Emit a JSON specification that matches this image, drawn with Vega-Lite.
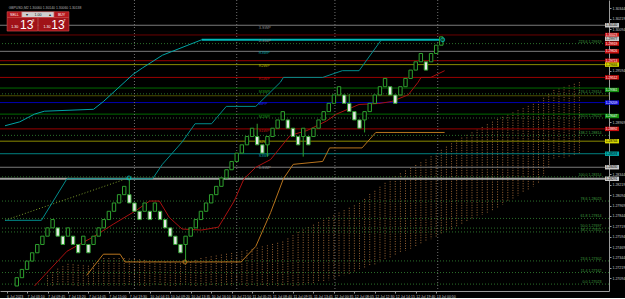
{
"$schema": "https://vega.github.io/schema/vega-lite/v6.json",
"width": 609, "height": 291, "padding": 0, "autosize": {"type": "pad"},
"background": "#000000",
"config": {"view": {"stroke": null}, "font": "Liberation Sans",
 "axis": {"labelFontSize":3.5,"labelColor":"#c8c8c8","tickSize":2,"labelPadding":1,"tickColor":"#9a9a9a","domainColor":"#9a9a9a","grid":false,"labelOverlap":false,"labelBound":false,"labelFlush":false,"labelFont":"Liberation Sans"},
 "axisX": {"labelAlign":"left"}},
"resolve": {"scale": {"color": "independent", "fill": "independent"}},
"datasets": {
"bricks": [
{"c":2,"lo":1.270,"hi":1.271,"d":"u"},{"c":3,"lo":1.271,"hi":1.272,"d":"u"},{"c":4,"lo":1.272,"hi":1.273,"d":"u"},{"c":5,"lo":1.273,"hi":1.274,"d":"u"},
{"c":6,"lo":1.274,"hi":1.275,"d":"u"},{"c":7,"lo":1.275,"hi":1.276,"d":"u"},{"c":8,"lo":1.276,"hi":1.277,"d":"u"},{"c":9,"lo":1.277,"hi":1.278,"d":"u"},
{"c":10,"lo":1.276,"hi":1.277,"d":"d"},{"c":11,"lo":1.275,"hi":1.276,"d":"d"},{"c":12,"lo":1.276,"hi":1.277,"d":"u"},{"c":13,"lo":1.275,"hi":1.276,"d":"d"},
{"c":14,"lo":1.274,"hi":1.275,"d":"d"},{"c":15,"lo":1.275,"hi":1.276,"d":"u"},{"c":16,"lo":1.274,"hi":1.275,"d":"d"},{"c":17,"lo":1.275,"hi":1.276,"d":"u"},
{"c":18,"lo":1.276,"hi":1.277,"d":"u"},{"c":19,"lo":1.277,"hi":1.278,"d":"u"},{"c":20,"lo":1.278,"hi":1.279,"d":"u"},{"c":21,"lo":1.279,"hi":1.280,"d":"u"},
{"c":22,"lo":1.280,"hi":1.281,"d":"u"},{"c":23,"lo":1.281,"hi":1.282,"d":"u"},{"c":24,"lo":1.280,"hi":1.281,"d":"d"},{"c":25,"lo":1.279,"hi":1.280,"d":"d"},
{"c":26,"lo":1.278,"hi":1.279,"d":"d"},{"c":27,"lo":1.279,"hi":1.280,"d":"u"},{"c":28,"lo":1.278,"hi":1.279,"d":"d"},{"c":29,"lo":1.279,"hi":1.280,"d":"u"},
{"c":30,"lo":1.278,"hi":1.279,"d":"d"},{"c":31,"lo":1.277,"hi":1.278,"d":"d"},{"c":32,"lo":1.276,"hi":1.277,"d":"d"},{"c":33,"lo":1.275,"hi":1.276,"d":"d"},
{"c":34,"lo":1.274,"hi":1.275,"d":"d"},{"c":35,"lo":1.275,"hi":1.276,"d":"u"},{"c":36,"lo":1.276,"hi":1.277,"d":"u"},{"c":37,"lo":1.277,"hi":1.278,"d":"u"},
{"c":38,"lo":1.278,"hi":1.279,"d":"u"},{"c":39,"lo":1.279,"hi":1.280,"d":"u"},{"c":40,"lo":1.280,"hi":1.281,"d":"u"},{"c":41,"lo":1.281,"hi":1.282,"d":"u"},
{"c":42,"lo":1.282,"hi":1.283,"d":"u"},{"c":43,"lo":1.283,"hi":1.284,"d":"u"},{"c":44,"lo":1.284,"hi":1.285,"d":"u"},{"c":45,"lo":1.285,"hi":1.286,"d":"u"},
{"c":46,"lo":1.286,"hi":1.287,"d":"u"},{"c":47,"lo":1.287,"hi":1.288,"d":"u"},{"c":48,"lo":1.288,"hi":1.289,"d":"u"},{"c":49,"lo":1.287,"hi":1.288,"d":"d"},
{"c":50,"lo":1.286,"hi":1.287,"d":"d"},{"c":51,"lo":1.287,"hi":1.288,"d":"u"},{"c":52,"lo":1.288,"hi":1.289,"d":"u"},{"c":53,"lo":1.289,"hi":1.290,"d":"u"},
{"c":54,"lo":1.290,"hi":1.291,"d":"u"},{"c":55,"lo":1.289,"hi":1.290,"d":"d"},{"c":56,"lo":1.288,"hi":1.289,"d":"d"},{"c":57,"lo":1.287,"hi":1.288,"d":"d"},
{"c":58,"lo":1.288,"hi":1.289,"d":"u"},{"c":59,"lo":1.287,"hi":1.288,"d":"d"},{"c":60,"lo":1.288,"hi":1.289,"d":"u"},{"c":61,"lo":1.289,"hi":1.290,"d":"u"},
{"c":62,"lo":1.290,"hi":1.291,"d":"u"},{"c":63,"lo":1.291,"hi":1.292,"d":"u"},{"c":64,"lo":1.292,"hi":1.293,"d":"u"},{"c":65,"lo":1.293,"hi":1.294,"d":"u"},
{"c":66,"lo":1.292,"hi":1.293,"d":"d"},{"c":67,"lo":1.291,"hi":1.292,"d":"d"},{"c":68,"lo":1.290,"hi":1.291,"d":"d"},{"c":69,"lo":1.289,"hi":1.290,"d":"d"},
{"c":70,"lo":1.290,"hi":1.291,"d":"u"},{"c":71,"lo":1.291,"hi":1.292,"d":"u"},{"c":72,"lo":1.292,"hi":1.293,"d":"u"},{"c":73,"lo":1.293,"hi":1.294,"d":"u"},
{"c":74,"lo":1.294,"hi":1.295,"d":"u"},{"c":75,"lo":1.293,"hi":1.294,"d":"d"},{"c":76,"lo":1.292,"hi":1.293,"d":"d"},{"c":77,"lo":1.293,"hi":1.294,"d":"u"},
{"c":78,"lo":1.294,"hi":1.295,"d":"u"},{"c":79,"lo":1.295,"hi":1.296,"d":"u"},{"c":80,"lo":1.296,"hi":1.297,"d":"u"},{"c":81,"lo":1.297,"hi":1.298,"d":"u"},
{"c":82,"lo":1.296,"hi":1.297,"d":"d"},{"c":83,"lo":1.297,"hi":1.298,"d":"u"},{"c":84,"lo":1.298,"hi":1.299,"d":"u"},{"c":85,"lo":1.299,"hi":1.300,"d":"u"}
],
"wicks": [
{"c":24,"lo":1.281,"hi":1.28302},{"c":35,"lo":1.2729,"hi":1.275},{"c":49,"lo":1.288,"hi":1.28954},{"c":51,"lo":1.28558,"hi":1.287},
{"c":58,"lo":1.28558,"hi":1.288},{"c":67,"lo":1.292,"hi":1.29314},{"c":70,"lo":1.28849,"hi":1.290},{"c":85,"lo":1.300,"hi":1.30005}
],
"circles": [
{"c":23.92,"p":1.28302,"s":"teal"},{"c":34.88,"p":1.27290,"s":"orange"},{"c":85.27,"p":1.29965,"s":"teal"}
],
"cloud": [
{"c":8,"t":1.27128,"b":1.27},{"c":9,"t":1.27168,"b":1.27},{"c":10,"t":1.27209,"b":1.27},{"c":11,"t":1.27238,"b":1.27},{"c":12,"t":1.27267,"b":1.27},
{"c":13,"t":1.27261,"b":1.27},{"c":14,"t":1.27255,"b":1.27},{"c":15,"t":1.27249,"b":1.27},{"c":16,"t":1.27244,"b":1.27},{"c":17,"t":1.27275,"b":1.27},
{"c":18,"t":1.27306,"b":1.27},{"c":19,"t":1.27337,"b":1.27},{"c":20,"t":1.27337,"b":1.27},{"c":21,"t":1.27337,"b":1.27},{"c":22,"t":1.27337,"b":1.27},
{"c":23,"t":1.27337,"b":1.27},{"c":24,"t":1.27331,"b":1.27},{"c":25,"t":1.27325,"b":1.27},{"c":26,"t":1.2732,"b":1.27},{"c":27,"t":1.27314,"b":1.27},
{"c":28,"t":1.27308,"b":1.27},{"c":29,"t":1.27302,"b":1.27},{"c":30,"t":1.27296,"b":1.27},{"c":31,"t":1.2729,"b":1.27},{"c":32,"t":1.27285,"b":1.27},
{"c":33,"t":1.27279,"b":1.27},{"c":34,"t":1.27273,"b":1.27},{"c":35,"t":1.27267,"b":1.27},{"c":36,"t":1.2729,"b":1.27},{"c":37,"t":1.27314,"b":1.27},
{"c":38,"t":1.27337,"b":1.27},{"c":39,"t":1.27347,"b":1.27},{"c":40,"t":1.27357,"b":1.27},{"c":41,"t":1.27367,"b":1.27},{"c":42,"t":1.27378,"b":1.27},
{"c":43,"t":1.27388,"b":1.27},{"c":44,"t":1.27397,"b":1.27},{"c":45,"t":1.27408,"b":1.27},{"c":46,"t":1.27418,"b":1.27},{"c":47,"t":1.27432,"b":1.27},
{"c":48,"t":1.27447,"b":1.27},{"c":49,"t":1.27461,"b":1.27},{"c":50,"t":1.27477,"b":1.27},{"c":51,"t":1.2749,"b":1.27},{"c":52,"t":1.27506,"b":1.27},
{"c":53,"t":1.2752,"b":1.27},{"c":54,"t":1.27535,"b":1.27},{"c":55,"t":1.27573,"b":1.27},{"c":56,"t":1.27613,"b":1.27},{"c":57,"t":1.27651,"b":1.27},
{"c":58,"t":1.2768,"b":1.27011},{"c":59,"t":1.27709,"b":1.27023},{"c":60,"t":1.27738,"b":1.27035},{"c":61,"t":1.27767,"b":1.27046},{"c":62,"t":1.27796,"b":1.27058},
{"c":63,"t":1.27826,"b":1.27069},{"c":64,"t":1.27855,"b":1.27089},{"c":65,"t":1.27884,"b":1.27108},{"c":66,"t":1.27913,"b":1.27128},{"c":67,"t":1.27942,"b":1.27148},
{"c":68,"t":1.27971,"b":1.27166},{"c":69,"t":1.28,"b":1.27186},{"c":70,"t":1.28049,"b":1.27211},{"c":71,"t":1.28108,"b":1.27236},{"c":72,"t":1.28146,"b":1.27257},
{"c":73,"t":1.28195,"b":1.27287},{"c":74,"t":1.28242,"b":1.27311},{"c":75,"t":1.28291,"b":1.27337},{"c":76,"t":1.28324,"b":1.27365},{"c":77,"t":1.28357,"b":1.27394},
{"c":78,"t":1.28391,"b":1.27422},{"c":79,"t":1.28423,"b":1.2745},{"c":80,"t":1.28457,"b":1.27478},{"c":81,"t":1.2849,"b":1.27507},{"c":82,"t":1.28523,"b":1.27535},
{"c":83,"t":1.28562,"b":1.27564},{"c":84,"t":1.28601,"b":1.27593},{"c":85,"t":1.2864,"b":1.27622},{"c":86,"t":1.28678,"b":1.27651},{"c":87,"t":1.28718,"b":1.2768},
{"c":88,"t":1.28756,"b":1.27709},{"c":89,"t":1.28787,"b":1.27738},{"c":90,"t":1.2882,"b":1.27767},{"c":91,"t":1.28851,"b":1.27796},{"c":92,"t":1.28884,"b":1.27826},
{"c":93,"t":1.28915,"b":1.27855},{"c":94,"t":1.28948,"b":1.27884},{"c":95,"t":1.28979,"b":1.27913},{"c":96,"t":1.29012,"b":1.27942},{"c":97,"t":1.29037,"b":1.27978},
{"c":98,"t":1.29064,"b":1.28014},{"c":99,"t":1.2909,"b":1.28051},{"c":100,"t":1.29117,"b":1.28087},{"c":101,"t":1.29142,"b":1.28123},{"c":102,"t":1.29169,"b":1.28159},
{"c":103,"t":1.29194,"b":1.28196},{"c":104,"t":1.29221,"b":1.28232},{"c":105,"t":1.29267,"b":1.28329},{"c":106,"t":1.29314,"b":1.28427},{"c":107,"t":1.29361,"b":1.28523},
{"c":108,"t":1.29379,"b":1.28535},{"c":109,"t":1.29398,"b":1.28546},{"c":110,"t":1.29416,"b":1.28558},{"c":111,"t":1.29435,"b":1.2857},{"c":112,"t":1.29454,"b":1.28581}
],
"lines": [
{"s":"red","c":5.46,"p":1.27},{"s":"red","c":7.38,"p":1.27128},{"s":"red","c":11.8,"p":1.27418},{"s":"red","c":17,"p":1.27593},{"s":"red","c":20.85,"p":1.27744},
{"s":"red","c":25.27,"p":1.27907},{"s":"red","c":27.96,"p":1.28023},{"s":"red","c":29.88,"p":1.28023},{"s":"red","c":31.81,"p":1.27826},{"s":"red","c":34.31,"p":1.27686},
{"s":"red","c":38.15,"p":1.27674},{"s":"red","c":41.42,"p":1.27709},{"s":"red","c":44.5,"p":1.28023},{"s":"red","c":46.42,"p":1.28291},{"s":"red","c":48.73,"p":1.2843},
{"s":"red","c":51.62,"p":1.28523},{"s":"red","c":55.46,"p":1.28814},{"s":"red","c":58.73,"p":1.28872},{"s":"red","c":62.58,"p":1.28988},{"s":"red","c":64.5,"p":1.2907},
{"s":"red","c":68.92,"p":1.29186},{"s":"red","c":72.77,"p":1.29198},{"s":"red","c":75.27,"p":1.29221},{"s":"red","c":78.54,"p":1.29302},{"s":"red","c":80.46,"p":1.29454},
{"s":"red","c":81.04,"p":1.29512},{"s":"red","c":82.96,"p":1.29512},{"s":"red","c":85.65,"p":1.29593},
{"s":"orange","c":15.65,"p":1.27128},{"s":"orange","c":18.92,"p":1.27383},{"s":"orange","c":22.19,"p":1.27383},{"s":"orange","c":23.15,"p":1.2729},{"s":"orange","c":45.85,"p":1.2729},
{"s":"orange","c":48.73,"p":1.27477},{"s":"orange","c":51.62,"p":1.27884},{"s":"orange","c":54.12,"p":1.28291},{"s":"orange","c":56.04,"p":1.28465},{"s":"orange","c":61.81,"p":1.285},
{"s":"orange","c":63.15,"p":1.28663},{"s":"orange","c":69.5,"p":1.28663},{"s":"orange","c":72.19,"p":1.28849},{"s":"orange","c":85.65,"p":1.28849},
{"s":"teal1","c":-0.31,"p":1.2893},{"s":"teal1","c":2.58,"p":1.28977},{"s":"teal1","c":5.46,"p":1.2907},{"s":"teal1","c":7.38,"p":1.29105},{"s":"teal1","c":17,"p":1.29128},
{"s":"teal1","c":18.92,"p":1.29221},{"s":"teal1","c":24.69,"p":1.29547},{"s":"teal1","c":26.62,"p":1.29628},{"s":"teal1","c":30.46,"p":1.29779},{"s":"teal1","c":36.23,"p":1.29919},
{"s":"teal1","c":38.15,"p":1.29965},
{"s":"teal2","c":-0.31,"p":1.27791},{"s":"teal2","c":6.81,"p":1.27791},{"s":"teal2","c":11.8,"p":1.28291},{"s":"teal2","c":28.54,"p":1.28291},{"s":"teal2","c":30.46,"p":1.28465},
{"s":"teal2","c":34.31,"p":1.28733},{"s":"teal2","c":36.85,"p":1.28954},{"s":"teal2","c":40.08,"p":1.28954},{"s":"teal2","c":42.96,"p":1.29163},{"s":"teal2","c":48.73,"p":1.29163},
{"s":"teal2","c":53.54,"p":1.29454},{"s":"teal2","c":54.12,"p":1.29512},{"s":"teal2","c":61.81,"p":1.29512},{"s":"teal2","c":65.65,"p":1.29593},{"s":"teal2","c":68.92,"p":1.29593},
{"s":"teal2","c":73.15,"p":1.29954}
],
"tealtop": [{"c":38.15,"p":1.29965},{"c":85.27,"p":1.29965}],
"diag": [{"c":-0.31,"p":1.27791},{"c":23.92,"p":1.28302}],
"piv": [
{"p":1.3014,"n":"g"},{"p":1.30023,"n":"dr"},{"p":1.29826,"n":"g"},{"p":1.29713,"n":"r"},{"p":1.29666,"n":"y"},{"p":1.29512,"n":"r"},
{"p":1.29384,"n":"gr"},{"p":1.29291,"n":"ol"},{"p":1.29209,"n":"b"},{"p":1.2907,"n":"gr"},{"p":1.28892,"n":"r"},{"p":1.28744,"n":"y"},
{"p":1.28593,"n":"t"},{"p":1.2843,"n":"g"}
],
"pivlab": [
{"p":1.30105,"t":"3-SWP","n":"g"},{"p":1.29954,"t":"2-SWP","n":"g"},{"p":1.29803,"t":"R3WP","n":"t"},{"p":1.29651,"t":"R2WP","n":"y"},
{"p":1.29492,"t":"R1WP","n":"r"},{"p":1.29337,"t":"M3WP","n":"gr"},{"p":1.29186,"t":"WPP","n":"b"},{"p":1.29035,"t":"M2WP","n":"gr"},
{"p":1.28872,"t":"S1WP","n":"r"},{"p":1.28733,"t":"S2WP","n":"y"},{"p":1.2857,"t":"S3WP","n":"t"},{"p":1.28419,"t":"1-SWP","n":"g"}
],
"fib": [
{"p":1.29919,"t":"223.6  1.29919"},{"p":1.29314,"t":"176.4  1.29314"},{"p":1.29023,"t":"150.0  1.29023"},{"p":1.28814,"t":"138.2  1.28814"},
{"p":1.28314,"t":"100.0  1.28314"},{"p":1.28023,"t":"78.6  1.28023"},{"p":1.27814,"t":"61.8  1.27814"},{"p":1.27697,"t":"50.0  1.27697"},
{"p":1.27651,"t":"38.2  1.27651"},{"p":1.27302,"t":"23.6  1.27302"},{"p":1.27162,"t":"11.4  1.27162"},{"p":1.27023,"t":"0.0  1.27023"}
],
"tags": [
{"p":1.3014,"n":"w"},{"p":1.30023,"n":"r"},{"p":1.29977,"n":"w"},{"p":1.29919,"n":"r"},{"p":1.29826,"n":"r"},{"p":1.29713,"n":"r"},
{"p":1.29666,"n":"y"},{"p":1.29512,"n":"r"},{"p":1.29361,"n":"gr"},{"p":1.29209,"n":"b"},{"p":1.29047,"n":"gr"},{"p":1.28892,"n":"r"},
{"p":1.28744,"n":"y"},{"p":1.28593,"n":"t"},{"p":1.2843,"n":"w"},{"p":1.28291,"n":"w"}
],
"seps": [{"c":25},{"c":45},{"c":64.2},{"c":84.3}],
"panel": [
{"k":"btn","c":0.1,"c2":2.96,"p":1.30303,"p2":1.30233},
{"k":"lot","c":2.96,"c2":9.31,"p":1.30303,"p2":1.30233},
{"k":"btn","c":9.31,"c2":12.19,"p":1.30303,"p2":1.30233},
{"k":"big","c":0.1,"c2":6.1,"p":1.30233,"p2":1.3007},
{"k":"big","c":6.2,"c2":12.19,"p":1.30233,"p2":1.3007}
],
"ptext": [
{"k":"s","c":1.53,"p":1.30268,"t":"SELL","n":"w"},{"k":"s","c":6.13,"p":1.30268,"t":"1.00","n":"k"},{"k":"s","c":4.0,"p":1.30268,"t":"▾","n":"k"},
{"k":"s","c":8.4,"p":1.30268,"t":"▴","n":"k"},{"k":"s","c":10.75,"p":1.30268,"t":"BUY","n":"w"},
{"k":"s","c":1.6,"p":1.30116,"t":"1.30","n":"w"},{"k":"s","c":7.9,"p":1.30116,"t":"1.30","n":"w"},
{"k":"s","c":5.2,"p":1.30186,"t":"8","n":"w"},{"k":"s","c":11.3,"p":1.30186,"t":"7","n":"w"},
{"k":"big","c":3.95,"p":1.30146,"t":"13","n":"w"},{"k":"big","c":10.05,"p":1.30146,"t":"13","n":"w"},
{"k":"title","c":0.4,"p":1.30352,"t":"GBPUSD,M2  1.30060 1.30140 1.30060 1.30138","n":"g"}
]
},
"layer": [
{"data":{"name":"cloud"},"mark":{"type":"rule","strokeDash":[1,1.5],"strokeWidth":1,"color":"#9a6535","clip":true},
 "encoding":{"x":{"field":"c","type":"quantitative","scale":{"domain":[-0.31,116.81],"nice":false,"zero":false},"axis":{"orient":"bottom","title":null,"values":[0,4,8,12,16,20,24,28,32,36,40,44,48,52,56,60,64,68,72,76,80,84],"labelExpr":"['6 Jul 2023','7 Jul 03:10','7 Jul 09:45','7 Jul 13:20','7 Jul 14:05','7 Jul 15:00','7 Jul 19:30','10 Jul 04:15','10 Jul 09:20','10 Jul 13:35','10 Jul 16:10','10 Jul 21:50','11 Jul 05:25','11 Jul 08:40','11 Jul 09:55','11 Jul 13:45','12 Jul 00:35','12 Jul 08:05','12 Jul 12:30','12 Jul 14:15','12 Jul 19:40','13 Jul 00:50'][round(datum.value/4)]"}},
  "y":{"field":"t","type":"quantitative","scale":{"domain":[1.27,1.30384],"nice":false,"zero":false},"axis":{"orient":"right","title":null,"format":".5f","values":[1.27094,1.27219,1.27344,1.27469,1.27594,1.27719,1.27844,1.27969,1.28094,1.28219,1.28344,1.28969,1.29594,1.30094,1.30219,1.30344]}},"y2":{"field":"b"}}},
{"data":{"name":"piv"},"mark":{"type":"rule","strokeWidth":1,"clip":true},
 "encoding":{"y":{"field":"p","type":"quantitative","scale":{"domain":[1.27,1.30384],"nice":false,"zero":false},"axis":{"orient":"right","title":null,"format":".5f","values":[1.27094,1.27219,1.27344,1.27469,1.27594,1.27719,1.27844,1.27969,1.28094,1.28219,1.28344,1.28969,1.29594,1.30094,1.30219,1.30344]}},
  "color":{"field":"n","type":"nominal","legend":null,"scale":{"domain":["g","dr","r","y","gr","ol","b","t","w","k"],"range":["#7a7a7a","#6a0000","#9a0000","#8a8a00","#006a00","#4c4c00","#0000b0","#008080","#c8c8c8","#000000"]}}}},
{"data":{"values":[{"p":1.28291}]},"mark":{"type":"rule","strokeWidth":2,"color":"#a0a0a0","clip":true},
 "encoding":{"y":{"field":"p","type":"quantitative","scale":{"domain":[1.27,1.30384],"nice":false,"zero":false},"axis":{"orient":"right","title":null,"format":".5f","values":[1.27094,1.27219,1.27344,1.27469,1.27594,1.27719,1.27844,1.27969,1.28094,1.28219,1.28344,1.28969,1.29594,1.30094,1.30219,1.30344]}}}},
{"data":{"name":"fib"},"mark":{"type":"rule","strokeWidth":1,"strokeDash":[1,2],"color":"#2a702a","clip":true},
 "encoding":{"y":{"field":"p","type":"quantitative","scale":{"domain":[1.27,1.30384],"nice":false,"zero":false},"axis":{"orient":"right","title":null,"format":".5f","values":[1.27094,1.27219,1.27344,1.27469,1.27594,1.27719,1.27844,1.27969,1.28094,1.28219,1.28344,1.28969,1.29594,1.30094,1.30219,1.30344]}}}},
{"data":{"name":"seps"},"mark":{"type":"rule","strokeWidth":1,"strokeDash":[1,2],"color":"#707070","clip":true},
 "encoding":{"x":{"field":"c","type":"quantitative","scale":{"domain":[-0.31,116.81],"nice":false,"zero":false},"axis":{"orient":"bottom","title":null,"values":[0,4,8,12,16,20,24,28,32,36,40,44,48,52,56,60,64,68,72,76,80,84],"labelExpr":"['6 Jul 2023','7 Jul 03:10','7 Jul 09:45','7 Jul 13:20','7 Jul 14:05','7 Jul 15:00','7 Jul 19:30','10 Jul 04:15','10 Jul 09:20','10 Jul 13:35','10 Jul 16:10','10 Jul 21:50','11 Jul 05:25','11 Jul 08:40','11 Jul 09:55','11 Jul 13:45','12 Jul 00:35','12 Jul 08:05','12 Jul 12:30','12 Jul 14:15','12 Jul 19:40','13 Jul 00:50'][round(datum.value/4)]"}}}},
{"data":{"name":"diag"},"mark":{"type":"line","strokeWidth":1,"strokeDash":[1,2],"color":"#7a9a2a","clip":true},
 "encoding":{"x":{"field":"c","type":"quantitative","scale":{"domain":[-0.31,116.81],"nice":false,"zero":false},"axis":{"orient":"bottom","title":null,"values":[0,4,8,12,16,20,24,28,32,36,40,44,48,52,56,60,64,68,72,76,80,84],"labelExpr":"['6 Jul 2023','7 Jul 03:10','7 Jul 09:45','7 Jul 13:20','7 Jul 14:05','7 Jul 15:00','7 Jul 19:30','10 Jul 04:15','10 Jul 09:20','10 Jul 13:35','10 Jul 16:10','10 Jul 21:50','11 Jul 05:25','11 Jul 08:40','11 Jul 09:55','11 Jul 13:45','12 Jul 00:35','12 Jul 08:05','12 Jul 12:30','12 Jul 14:15','12 Jul 19:40','13 Jul 00:50'][round(datum.value/4)]"}},
  "y":{"field":"p","type":"quantitative","scale":{"domain":[1.27,1.30384],"nice":false,"zero":false},"axis":{"orient":"right","title":null,"format":".5f","values":[1.27094,1.27219,1.27344,1.27469,1.27594,1.27719,1.27844,1.27969,1.28094,1.28219,1.28344,1.28969,1.29594,1.30094,1.30219,1.30344]}}}},
{"data":{"name":"lines"},"mark":{"type":"line","strokeWidth":1,"clip":true},
 "encoding":{"x":{"field":"c","type":"quantitative","scale":{"domain":[-0.31,116.81],"nice":false,"zero":false},"axis":{"orient":"bottom","title":null,"values":[0,4,8,12,16,20,24,28,32,36,40,44,48,52,56,60,64,68,72,76,80,84],"labelExpr":"['6 Jul 2023','7 Jul 03:10','7 Jul 09:45','7 Jul 13:20','7 Jul 14:05','7 Jul 15:00','7 Jul 19:30','10 Jul 04:15','10 Jul 09:20','10 Jul 13:35','10 Jul 16:10','10 Jul 21:50','11 Jul 05:25','11 Jul 08:40','11 Jul 09:55','11 Jul 13:45','12 Jul 00:35','12 Jul 08:05','12 Jul 12:30','12 Jul 14:15','12 Jul 19:40','13 Jul 00:50'][round(datum.value/4)]"}},
  "y":{"field":"p","type":"quantitative","scale":{"domain":[1.27,1.30384],"nice":false,"zero":false},"axis":{"orient":"right","title":null,"format":".5f","values":[1.27094,1.27219,1.27344,1.27469,1.27594,1.27719,1.27844,1.27969,1.28094,1.28219,1.28344,1.28969,1.29594,1.30094,1.30219,1.30344]}},
  "detail":{"field":"s"},
  "color":{"field":"s","type":"nominal","legend":null,"scale":{"domain":["red","orange","teal1","teal2"],"range":["#a81010","#b8741e","#00a4a4","#008c8c"]}}}},
{"data":{"name":"tealtop"},"mark":{"type":"line","strokeWidth":2,"color":"#00b8b8","clip":true},
 "encoding":{"x":{"field":"c","type":"quantitative","scale":{"domain":[-0.31,116.81],"nice":false,"zero":false},"axis":{"orient":"bottom","title":null,"values":[0,4,8,12,16,20,24,28,32,36,40,44,48,52,56,60,64,68,72,76,80,84],"labelExpr":"['6 Jul 2023','7 Jul 03:10','7 Jul 09:45','7 Jul 13:20','7 Jul 14:05','7 Jul 15:00','7 Jul 19:30','10 Jul 04:15','10 Jul 09:20','10 Jul 13:35','10 Jul 16:10','10 Jul 21:50','11 Jul 05:25','11 Jul 08:40','11 Jul 09:55','11 Jul 13:45','12 Jul 00:35','12 Jul 08:05','12 Jul 12:30','12 Jul 14:15','12 Jul 19:40','13 Jul 00:50'][round(datum.value/4)]"}},
  "y":{"field":"p","type":"quantitative","scale":{"domain":[1.27,1.30384],"nice":false,"zero":false},"axis":{"orient":"right","title":null,"format":".5f","values":[1.27094,1.27219,1.27344,1.27469,1.27594,1.27719,1.27844,1.27969,1.28094,1.28219,1.28344,1.28969,1.29594,1.30094,1.30219,1.30344]}}}},
{"data":{"name":"pivlab"},"mark":{"type":"text","fontSize":3.8,"align":"left","baseline":"middle","clip":true},
 "encoding":{"x":{"datum":49.3,"type":"quantitative","scale":{"domain":[-0.31,116.81],"nice":false,"zero":false},"axis":{"orient":"bottom","title":null,"values":[0,4,8,12,16,20,24,28,32,36,40,44,48,52,56,60,64,68,72,76,80,84],"labelExpr":"['6 Jul 2023','7 Jul 03:10','7 Jul 09:45','7 Jul 13:20','7 Jul 14:05','7 Jul 15:00','7 Jul 19:30','10 Jul 04:15','10 Jul 09:20','10 Jul 13:35','10 Jul 16:10','10 Jul 21:50','11 Jul 05:25','11 Jul 08:40','11 Jul 09:55','11 Jul 13:45','12 Jul 00:35','12 Jul 08:05','12 Jul 12:30','12 Jul 14:15','12 Jul 19:40','13 Jul 00:50'][round(datum.value/4)]"}},
  "y":{"field":"p","type":"quantitative","scale":{"domain":[1.27,1.30384],"nice":false,"zero":false},"axis":{"orient":"right","title":null,"format":".5f","values":[1.27094,1.27219,1.27344,1.27469,1.27594,1.27719,1.27844,1.27969,1.28094,1.28219,1.28344,1.28969,1.29594,1.30094,1.30219,1.30344]}},
  "text":{"field":"t"},
  "color":{"field":"n","type":"nominal","legend":null,"scale":{"domain":["g","dr","r","y","gr","ol","b","t","w","k"],"range":["#8a8a8a","#7a0000","#c01010","#b0b000","#1a9a1a","#5c5c00","#2020ff","#00a0a0","#c8c8c8","#000000"]}}}},
{"data":{"name":"fib"},"mark":{"type":"text","fontSize":3.6,"align":"right","baseline":"bottom","color":"#3f9f3f","clip":true},
 "encoding":{"x":{"datum":116.3,"type":"quantitative","scale":{"domain":[-0.31,116.81],"nice":false,"zero":false},"axis":{"orient":"bottom","title":null,"values":[0,4,8,12,16,20,24,28,32,36,40,44,48,52,56,60,64,68,72,76,80,84],"labelExpr":"['6 Jul 2023','7 Jul 03:10','7 Jul 09:45','7 Jul 13:20','7 Jul 14:05','7 Jul 15:00','7 Jul 19:30','10 Jul 04:15','10 Jul 09:20','10 Jul 13:35','10 Jul 16:10','10 Jul 21:50','11 Jul 05:25','11 Jul 08:40','11 Jul 09:55','11 Jul 13:45','12 Jul 00:35','12 Jul 08:05','12 Jul 12:30','12 Jul 14:15','12 Jul 19:40','13 Jul 00:50'][round(datum.value/4)]"}},
  "y":{"field":"p","type":"quantitative","scale":{"domain":[1.27,1.30384],"nice":false,"zero":false},"axis":{"orient":"right","title":null,"format":".5f","values":[1.27094,1.27219,1.27344,1.27469,1.27594,1.27719,1.27844,1.27969,1.28094,1.28219,1.28344,1.28969,1.29594,1.30094,1.30219,1.30344]}},
  "text":{"field":"t"}}},
{"data":{"name":"wicks"},"mark":{"type":"rule","strokeWidth":1,"color":"#2ea02e","clip":true},
 "encoding":{"x":{"field":"c","type":"quantitative","scale":{"domain":[-0.31,116.81],"nice":false,"zero":false},"axis":{"orient":"bottom","title":null,"values":[0,4,8,12,16,20,24,28,32,36,40,44,48,52,56,60,64,68,72,76,80,84],"labelExpr":"['6 Jul 2023','7 Jul 03:10','7 Jul 09:45','7 Jul 13:20','7 Jul 14:05','7 Jul 15:00','7 Jul 19:30','10 Jul 04:15','10 Jul 09:20','10 Jul 13:35','10 Jul 16:10','10 Jul 21:50','11 Jul 05:25','11 Jul 08:40','11 Jul 09:55','11 Jul 13:45','12 Jul 00:35','12 Jul 08:05','12 Jul 12:30','12 Jul 14:15','12 Jul 19:40','13 Jul 00:50'][round(datum.value/4)]"}},
  "y":{"field":"lo","type":"quantitative","scale":{"domain":[1.27,1.30384],"nice":false,"zero":false},"axis":{"orient":"right","title":null,"format":".5f","values":[1.27094,1.27219,1.27344,1.27469,1.27594,1.27719,1.27844,1.27969,1.28094,1.28219,1.28344,1.28969,1.29594,1.30094,1.30219,1.30344]}},"y2":{"field":"hi"}}},
{"data":{"name":"bricks"},"mark":{"type":"bar","width":3.4,"stroke":"#2ea02e","strokeWidth":1,"clip":true},
 "encoding":{"x":{"field":"c","type":"quantitative","scale":{"domain":[-0.31,116.81],"nice":false,"zero":false},"axis":{"orient":"bottom","title":null,"values":[0,4,8,12,16,20,24,28,32,36,40,44,48,52,56,60,64,68,72,76,80,84],"labelExpr":"['6 Jul 2023','7 Jul 03:10','7 Jul 09:45','7 Jul 13:20','7 Jul 14:05','7 Jul 15:00','7 Jul 19:30','10 Jul 04:15','10 Jul 09:20','10 Jul 13:35','10 Jul 16:10','10 Jul 21:50','11 Jul 05:25','11 Jul 08:40','11 Jul 09:55','11 Jul 13:45','12 Jul 00:35','12 Jul 08:05','12 Jul 12:30','12 Jul 14:15','12 Jul 19:40','13 Jul 00:50'][round(datum.value/4)]"}},
  "y":{"field":"lo","type":"quantitative","scale":{"domain":[1.27,1.30384],"nice":false,"zero":false},"axis":{"orient":"right","title":null,"format":".5f","values":[1.27094,1.27219,1.27344,1.27469,1.27594,1.27719,1.27844,1.27969,1.28094,1.28219,1.28344,1.28969,1.29594,1.30094,1.30219,1.30344]}},
  "y2":{"field":"hi"},
  "fill":{"field":"d","type":"nominal","legend":null,"scale":{"domain":["u","d"],"range":["#000000","#e8e8e8"]}}}},
{"data":{"name":"circles"},"mark":{"type":"point","shape":"circle","size":14,"filled":false,"strokeWidth":1.2,"clip":true},
 "encoding":{"x":{"field":"c","type":"quantitative","scale":{"domain":[-0.31,116.81],"nice":false,"zero":false},"axis":{"orient":"bottom","title":null,"values":[0,4,8,12,16,20,24,28,32,36,40,44,48,52,56,60,64,68,72,76,80,84],"labelExpr":"['6 Jul 2023','7 Jul 03:10','7 Jul 09:45','7 Jul 13:20','7 Jul 14:05','7 Jul 15:00','7 Jul 19:30','10 Jul 04:15','10 Jul 09:20','10 Jul 13:35','10 Jul 16:10','10 Jul 21:50','11 Jul 05:25','11 Jul 08:40','11 Jul 09:55','11 Jul 13:45','12 Jul 00:35','12 Jul 08:05','12 Jul 12:30','12 Jul 14:15','12 Jul 19:40','13 Jul 00:50'][round(datum.value/4)]"}},
  "y":{"field":"p","type":"quantitative","scale":{"domain":[1.27,1.30384],"nice":false,"zero":false},"axis":{"orient":"right","title":null,"format":".5f","values":[1.27094,1.27219,1.27344,1.27469,1.27594,1.27719,1.27844,1.27969,1.28094,1.28219,1.28344,1.28969,1.29594,1.30094,1.30219,1.30344]}},
  "color":{"field":"s","type":"nominal","legend":null,"scale":{"domain":["teal","orange"],"range":["#00c8c8","#c88020"]}}}},
{"data":{"name":"tags"},"mark":{"type":"bar","orient":"horizontal","height":4.4},
 "encoding":{"x":{"datum":117.0,"type":"quantitative","scale":{"domain":[-0.31,116.81],"nice":false,"zero":false},"axis":{"orient":"bottom","title":null,"values":[0,4,8,12,16,20,24,28,32,36,40,44,48,52,56,60,64,68,72,76,80,84],"labelExpr":"['6 Jul 2023','7 Jul 03:10','7 Jul 09:45','7 Jul 13:20','7 Jul 14:05','7 Jul 15:00','7 Jul 19:30','10 Jul 04:15','10 Jul 09:20','10 Jul 13:35','10 Jul 16:10','10 Jul 21:50','11 Jul 05:25','11 Jul 08:40','11 Jul 09:55','11 Jul 13:45','12 Jul 00:35','12 Jul 08:05','12 Jul 12:30','12 Jul 14:15','12 Jul 19:40','13 Jul 00:50'][round(datum.value/4)]"}},"x2":{"datum":119.75},
  "y":{"field":"p","type":"quantitative","scale":{"domain":[1.27,1.30384],"nice":false,"zero":false},"axis":{"orient":"right","title":null,"format":".5f","values":[1.27094,1.27219,1.27344,1.27469,1.27594,1.27719,1.27844,1.27969,1.28094,1.28219,1.28344,1.28969,1.29594,1.30094,1.30219,1.30344]}},
  "color":{"field":"n","type":"nominal","legend":null,"scale":{"domain":["g","dr","r","y","gr","ol","b","t","w","k"],"range":["#8a8a8a","#7a0000","#c81010","#d8d800","#109010","#5c5c00","#1010e0","#00a8a8","#c8c8c8","#000000"]}}}},
{"data":{"name":"tags"},"mark":{"type":"text","fontSize":3.2,"align":"left","baseline":"middle"},
 "encoding":{"x":{"datum":117.15,"type":"quantitative","scale":{"domain":[-0.31,116.81],"nice":false,"zero":false},"axis":{"orient":"bottom","title":null,"values":[0,4,8,12,16,20,24,28,32,36,40,44,48,52,56,60,64,68,72,76,80,84],"labelExpr":"['6 Jul 2023','7 Jul 03:10','7 Jul 09:45','7 Jul 13:20','7 Jul 14:05','7 Jul 15:00','7 Jul 19:30','10 Jul 04:15','10 Jul 09:20','10 Jul 13:35','10 Jul 16:10','10 Jul 21:50','11 Jul 05:25','11 Jul 08:40','11 Jul 09:55','11 Jul 13:45','12 Jul 00:35','12 Jul 08:05','12 Jul 12:30','12 Jul 14:15','12 Jul 19:40','13 Jul 00:50'][round(datum.value/4)]"}},
  "y":{"field":"p","type":"quantitative","scale":{"domain":[1.27,1.30384],"nice":false,"zero":false},"axis":{"orient":"right","title":null,"format":".5f","values":[1.27094,1.27219,1.27344,1.27469,1.27594,1.27719,1.27844,1.27969,1.28094,1.28219,1.28344,1.28969,1.29594,1.30094,1.30219,1.30344]}},
  "text":{"field":"p","format":".5f"},
  "color":{"field":"n","type":"nominal","legend":null,"scale":{"domain":["r","b","gr","y","t","w"],"range":["#ffffff","#ffffff","#ffffff","#000000","#000000","#000000"]}}}},
{"data":{"name":"panel"},"mark":{"type":"rect","stroke":"#d85050","strokeWidth":0.6},
 "encoding":{"x":{"field":"c","type":"quantitative","scale":{"domain":[-0.31,116.81],"nice":false,"zero":false},"axis":{"orient":"bottom","title":null,"values":[0,4,8,12,16,20,24,28,32,36,40,44,48,52,56,60,64,68,72,76,80,84],"labelExpr":"['6 Jul 2023','7 Jul 03:10','7 Jul 09:45','7 Jul 13:20','7 Jul 14:05','7 Jul 15:00','7 Jul 19:30','10 Jul 04:15','10 Jul 09:20','10 Jul 13:35','10 Jul 16:10','10 Jul 21:50','11 Jul 05:25','11 Jul 08:40','11 Jul 09:55','11 Jul 13:45','12 Jul 00:35','12 Jul 08:05','12 Jul 12:30','12 Jul 14:15','12 Jul 19:40','13 Jul 00:50'][round(datum.value/4)]"}},"x2":{"field":"c2"},
  "y":{"field":"p","type":"quantitative","scale":{"domain":[1.27,1.30384],"nice":false,"zero":false},"axis":{"orient":"right","title":null,"format":".5f","values":[1.27094,1.27219,1.27344,1.27469,1.27594,1.27719,1.27844,1.27969,1.28094,1.28219,1.28344,1.28969,1.29594,1.30094,1.30219,1.30344]}},"y2":{"field":"p2"},
  "fill":{"field":"k","type":"nominal","legend":null,"scale":{"domain":["btn","lot","big"],"range":["#b5161c","#cfcfcf","#a01218"]}}}},
{"data":{"name":"ptext"},"transform":[{"filter":"datum.k==='s'"}],
 "mark":{"type":"text","fontSize":3.6,"baseline":"middle","align":"center"},
 "encoding":{"x":{"field":"c","type":"quantitative","scale":{"domain":[-0.31,116.81],"nice":false,"zero":false},"axis":{"orient":"bottom","title":null,"values":[0,4,8,12,16,20,24,28,32,36,40,44,48,52,56,60,64,68,72,76,80,84],"labelExpr":"['6 Jul 2023','7 Jul 03:10','7 Jul 09:45','7 Jul 13:20','7 Jul 14:05','7 Jul 15:00','7 Jul 19:30','10 Jul 04:15','10 Jul 09:20','10 Jul 13:35','10 Jul 16:10','10 Jul 21:50','11 Jul 05:25','11 Jul 08:40','11 Jul 09:55','11 Jul 13:45','12 Jul 00:35','12 Jul 08:05','12 Jul 12:30','12 Jul 14:15','12 Jul 19:40','13 Jul 00:50'][round(datum.value/4)]"}},
  "y":{"field":"p","type":"quantitative","scale":{"domain":[1.27,1.30384],"nice":false,"zero":false},"axis":{"orient":"right","title":null,"format":".5f","values":[1.27094,1.27219,1.27344,1.27469,1.27594,1.27719,1.27844,1.27969,1.28094,1.28219,1.28344,1.28969,1.29594,1.30094,1.30219,1.30344]}},
  "text":{"field":"t"},
  "color":{"field":"n","type":"nominal","legend":null,"scale":{"domain":["w","k","g"],"range":["#ffffff","#202020","#b0b0b0"]}}}},
{"data":{"name":"ptext"},"transform":[{"filter":"datum.k==='title'"}],
 "mark":{"type":"text","fontSize":3.4,"baseline":"middle","align":"left","color":"#b0b0b0"},
 "encoding":{"x":{"field":"c","type":"quantitative","scale":{"domain":[-0.31,116.81],"nice":false,"zero":false},"axis":{"orient":"bottom","title":null,"values":[0,4,8,12,16,20,24,28,32,36,40,44,48,52,56,60,64,68,72,76,80,84],"labelExpr":"['6 Jul 2023','7 Jul 03:10','7 Jul 09:45','7 Jul 13:20','7 Jul 14:05','7 Jul 15:00','7 Jul 19:30','10 Jul 04:15','10 Jul 09:20','10 Jul 13:35','10 Jul 16:10','10 Jul 21:50','11 Jul 05:25','11 Jul 08:40','11 Jul 09:55','11 Jul 13:45','12 Jul 00:35','12 Jul 08:05','12 Jul 12:30','12 Jul 14:15','12 Jul 19:40','13 Jul 00:50'][round(datum.value/4)]"}},
  "y":{"field":"p","type":"quantitative","scale":{"domain":[1.27,1.30384],"nice":false,"zero":false},"axis":{"orient":"right","title":null,"format":".5f","values":[1.27094,1.27219,1.27344,1.27469,1.27594,1.27719,1.27844,1.27969,1.28094,1.28219,1.28344,1.28969,1.29594,1.30094,1.30219,1.30344]}},
  "text":{"field":"t"}}},
{"data":{"name":"ptext"},"transform":[{"filter":"datum.k==='big'"}],
 "mark":{"type":"text","fontSize":12,"baseline":"middle","align":"center","color":"#ffffff"},
 "encoding":{"x":{"field":"c","type":"quantitative","scale":{"domain":[-0.31,116.81],"nice":false,"zero":false},"axis":{"orient":"bottom","title":null,"values":[0,4,8,12,16,20,24,28,32,36,40,44,48,52,56,60,64,68,72,76,80,84],"labelExpr":"['6 Jul 2023','7 Jul 03:10','7 Jul 09:45','7 Jul 13:20','7 Jul 14:05','7 Jul 15:00','7 Jul 19:30','10 Jul 04:15','10 Jul 09:20','10 Jul 13:35','10 Jul 16:10','10 Jul 21:50','11 Jul 05:25','11 Jul 08:40','11 Jul 09:55','11 Jul 13:45','12 Jul 00:35','12 Jul 08:05','12 Jul 12:30','12 Jul 14:15','12 Jul 19:40','13 Jul 00:50'][round(datum.value/4)]"}},
  "y":{"field":"p","type":"quantitative","scale":{"domain":[1.27,1.30384],"nice":false,"zero":false},"axis":{"orient":"right","title":null,"format":".5f","values":[1.27094,1.27219,1.27344,1.27469,1.27594,1.27719,1.27844,1.27969,1.28094,1.28219,1.28344,1.28969,1.29594,1.30094,1.30219,1.30344]}},
  "text":{"field":"t"}}}
]
}
